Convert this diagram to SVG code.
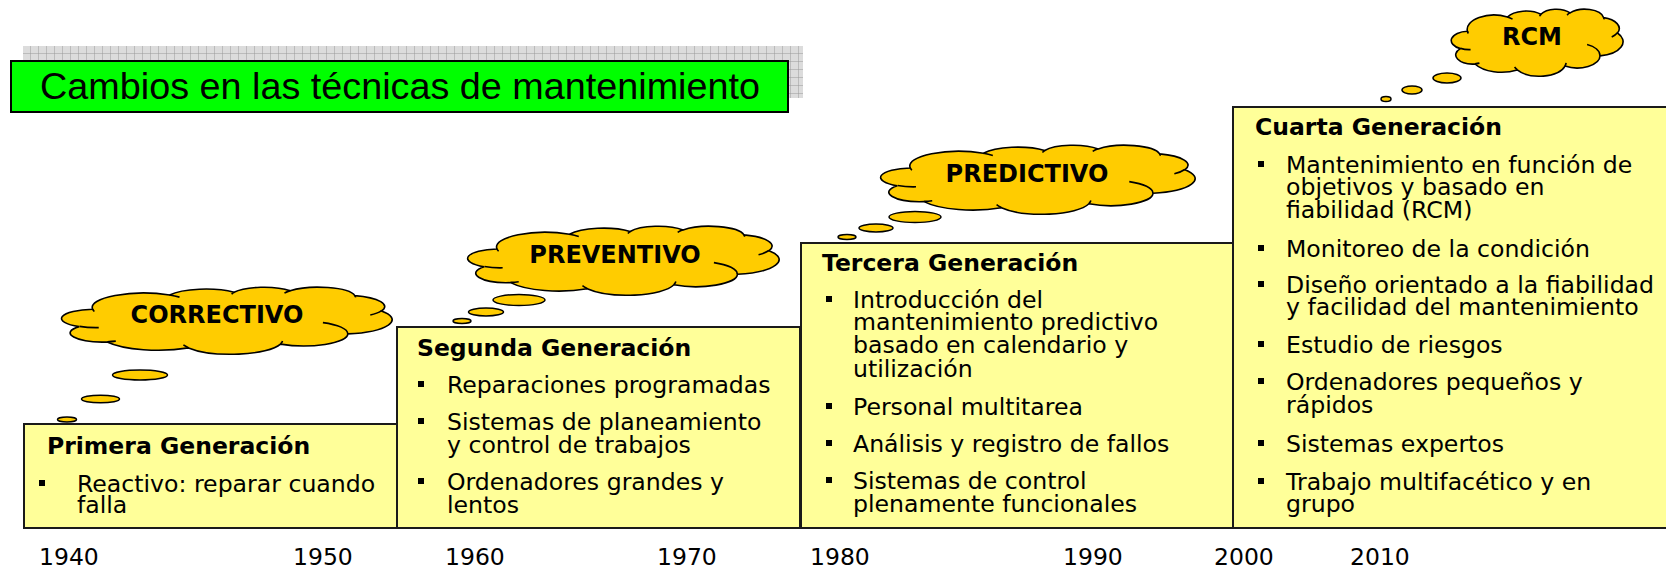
<svg xmlns="http://www.w3.org/2000/svg" width="1666" height="569" viewBox="0 0 1666 569">
<style>
.box{fill:#FFFF99;stroke:#1a1a1a;stroke-width:2}
.cloud{fill:#FFCC00;stroke:#000;stroke-width:1.6}
.crease{fill:none;stroke:#000;stroke-width:1.6}
.bub{fill:#FFCC00;stroke:#000;stroke-width:1.5}
.hd{font-family:"DejaVu Sans",Verdana,sans-serif;font-weight:bold;font-size:23.5px;fill:#000}
.tx{font-family:"DejaVu Sans",Verdana,sans-serif;font-size:23.6px;fill:#000}
.cl{font-family:"DejaVu Sans",Verdana,sans-serif;font-weight:bold;font-size:24px;fill:#000;text-anchor:middle}
.yr{font-family:"DejaVu Sans",Verdana,sans-serif;font-size:23.5px;fill:#000}
.bl{fill:#000}
</style>
<defs>
<pattern id="grid" x="23" y="46" width="8" height="8" patternUnits="userSpaceOnUse">
<rect width="8" height="8" fill="#dcdcdc"/>
<path d="M8 0V8H0" fill="none" stroke="#9a9a9a" stroke-width="1"/>
</pattern>
</defs>

<g id="title">
<rect x="23" y="46" width="780" height="52" fill="url(#grid)"/>
<rect x="11" y="61" width="777" height="51" fill="#00FF00" stroke="#000" stroke-width="2"/>
<text x="40" y="99" font-family="Liberation Sans, Arial, sans-serif" font-size="37" textLength="720" lengthAdjust="spacingAndGlyphs">Cambios en las técnicas de mantenimiento</text>
</g>

<g id="gen1">
<rect class="box" x="24" y="424" width="373" height="104"/>
<text class="hd" x="47" y="454">Primera Generación</text>
<rect class="bl" x="39" y="480" width="6" height="6"/>
<text class="tx" x="77" y="492">Reactivo: reparar cuando</text>
<text class="tx" x="77" y="513">falla</text>
</g>

<g id="gen2">
<rect class="box" x="397" y="327" width="403" height="201"/>
<text class="hd" x="417" y="356">Segunda Generación</text>
<rect class="bl" x="418" y="381" width="6" height="6"/>
<text class="tx" x="447" y="393">Reparaciones programadas</text>
<rect class="bl" x="418" y="418" width="6" height="6"/>
<text class="tx" x="447" y="430">Sistemas de planeamiento</text>
<text class="tx" x="447" y="453">y control de trabajos</text>
<rect class="bl" x="418" y="478" width="6" height="6"/>
<text class="tx" x="447" y="490">Ordenadores grandes y</text>
<text class="tx" x="447" y="513">lentos</text>
</g>

<g id="gen3">
<rect class="box" x="801" y="243" width="432" height="285"/>
<text class="hd" x="822" y="271">Tercera Generación</text>
<rect class="bl" x="826" y="296" width="6" height="6"/>
<text class="tx" x="853" y="308">Introducción del</text>
<text class="tx" x="853" y="330">mantenimiento predictivo</text>
<text class="tx" x="853" y="353">basado en calendario y</text>
<text class="tx" x="853" y="377">utilización</text>
<rect class="bl" x="826" y="403" width="6" height="6"/>
<text class="tx" x="853" y="415">Personal multitarea</text>
<rect class="bl" x="826" y="440" width="6" height="6"/>
<text class="tx" x="853" y="452">Análisis y registro de fallos</text>
<rect class="bl" x="826" y="477" width="6" height="6"/>
<text class="tx" x="853" y="489">Sistemas de control</text>
<text class="tx" x="853" y="512">plenamente funcionales</text>
</g>

<g id="gen4">
<rect class="box" x="1233" y="107" width="440" height="421"/>
<text class="hd" x="1255" y="135">Cuarta Generación</text>
<rect class="bl" x="1258" y="161" width="6" height="6"/>
<text class="tx" x="1286" y="173">Mantenimiento en función de</text>
<text class="tx" x="1286" y="195">objetivos y basado en</text>
<text class="tx" x="1286" y="218">fiabilidad (RCM)</text>
<rect class="bl" x="1258" y="245" width="6" height="6"/>
<text class="tx" x="1286" y="257">Monitoreo de la condición</text>
<rect class="bl" x="1258" y="281" width="6" height="6"/>
<text class="tx" x="1286" y="293">Diseño orientado a la fiabilidad</text>
<text class="tx" x="1286" y="315">y facilidad del mantenimiento</text>
<rect class="bl" x="1258" y="341" width="6" height="6"/>
<text class="tx" x="1286" y="353">Estudio de riesgos</text>
<rect class="bl" x="1258" y="378" width="6" height="6"/>
<text class="tx" x="1286" y="390">Ordenadores pequeños y</text>
<text class="tx" x="1286" y="413">rápidos</text>
<rect class="bl" x="1258" y="440" width="6" height="6"/>
<text class="tx" x="1286" y="452">Sistemas expertos</text>
<rect class="bl" x="1258" y="478" width="6" height="6"/>
<text class="tx" x="1286" y="490">Trabajo multifacético y en</text>
<text class="tx" x="1286" y="512">grupo</text>
</g>

<g id="cloud-correctivo">
<path class="cloud" vector-effect="non-scaling-stroke" transform="translate(63,287) scale(3.29,0.67)" d="M9.03 33.26A15.63 21.27 0 0 1 32.42 12.04A12.34 16.82 0 0 1 51.98 7.94A10.10 13.76 0 0 1 69.06 5.74A11.24 15.27 0 0 1 88.70 12.90A12.34 16.84 0 0 1 96.80 35.78A15.68 21.34 0 0 1 86.58 69.91A13.39 18.21 0 0 1 66.10 85.21A15.63 21.33 0 0 1 38.15 90.89A17.87 24.41 0 0 1 13.44 82.10A10.09 13.70 0 0 1 4.89 59.14A10.06 13.76 0 0 1 9.03 33.26Z"/>
<path class="crease" vector-effect="non-scaling-stroke" transform="translate(63,287) scale(3.29,0.67)" d="M10.86 60.59A10.06 13.76 0 0 1 5.00 58.75M16.04 80.79A10.09 13.70 0 0 1 13.47 81.67M38.14 90.49A15.63 21.33 0 0 1 36.60 86.46M66.73 80.44A15.63 21.33 0 0 1 66.11 84.86M79.00 53.13A13.39 18.21 0 0 1 86.53 69.65M96.75 35.54A12.34 16.84 0 0 1 93.40 41.73M88.71 12.56A11.24 15.27 0 0 1 88.89 15.49M67.31 9.15A11.24 15.27 0 0 1 69.03 5.42M51.25 10.93A10.10 13.76 0 0 1 52.08 7.71M32.41 12.02A15.63 21.27 0 0 1 35.41 15.14M9.55 36.55A15.63 21.27 0 0 1 9.03 33.27"/>
<ellipse class="bub" cx="140" cy="375" rx="27.5" ry="5"/>
<ellipse class="bub" cx="100.5" cy="399" rx="19" ry="3.8"/>
<ellipse class="bub" cx="67" cy="419.5" rx="9.5" ry="2.5"/>
<text class="cl" x="217" y="323">CORRECTIVO</text>
</g>

<g id="cloud-preventivo">
<path class="cloud" vector-effect="non-scaling-stroke" transform="translate(469,226) scale(3.10,0.69)" d="M9.03 33.26A15.63 21.27 0 0 1 32.42 12.04A12.34 16.82 0 0 1 51.98 7.94A10.10 13.76 0 0 1 69.06 5.74A11.24 15.27 0 0 1 88.70 12.90A12.34 16.84 0 0 1 96.80 35.78A15.68 21.34 0 0 1 86.58 69.91A13.39 18.21 0 0 1 66.10 85.21A15.63 21.33 0 0 1 38.15 90.89A17.87 24.41 0 0 1 13.44 82.10A10.09 13.70 0 0 1 4.89 59.14A10.06 13.76 0 0 1 9.03 33.26Z"/>
<path class="crease" vector-effect="non-scaling-stroke" transform="translate(469,226) scale(3.10,0.69)" d="M10.86 60.59A10.06 13.76 0 0 1 5.00 58.75M16.04 80.79A10.09 13.70 0 0 1 13.47 81.67M38.14 90.49A15.63 21.33 0 0 1 36.60 86.46M66.73 80.44A15.63 21.33 0 0 1 66.11 84.86M79.00 53.13A13.39 18.21 0 0 1 86.53 69.65M96.75 35.54A12.34 16.84 0 0 1 93.40 41.73M88.71 12.56A11.24 15.27 0 0 1 88.89 15.49M67.31 9.15A11.24 15.27 0 0 1 69.03 5.42M51.25 10.93A10.10 13.76 0 0 1 52.08 7.71M32.41 12.02A15.63 21.27 0 0 1 35.41 15.14M9.55 36.55A15.63 21.27 0 0 1 9.03 33.27"/>
<ellipse class="bub" cx="519" cy="300" rx="26" ry="5.5"/>
<ellipse class="bub" cx="486" cy="312" rx="17.5" ry="4"/>
<ellipse class="bub" cx="462" cy="321" rx="9" ry="2.5"/>
<text class="cl" x="615" y="263">PREVENTIVO</text>
</g>

<g id="cloud-predictivo">
<path class="cloud" vector-effect="non-scaling-stroke" transform="translate(882,145) scale(3.13,0.69)" d="M9.03 33.26A15.63 21.27 0 0 1 32.42 12.04A12.34 16.82 0 0 1 51.98 7.94A10.10 13.76 0 0 1 69.06 5.74A11.24 15.27 0 0 1 88.70 12.90A12.34 16.84 0 0 1 96.80 35.78A15.68 21.34 0 0 1 86.58 69.91A13.39 18.21 0 0 1 66.10 85.21A15.63 21.33 0 0 1 38.15 90.89A17.87 24.41 0 0 1 13.44 82.10A10.09 13.70 0 0 1 4.89 59.14A10.06 13.76 0 0 1 9.03 33.26Z"/>
<path class="crease" vector-effect="non-scaling-stroke" transform="translate(882,145) scale(3.13,0.69)" d="M10.86 60.59A10.06 13.76 0 0 1 5.00 58.75M16.04 80.79A10.09 13.70 0 0 1 13.47 81.67M38.14 90.49A15.63 21.33 0 0 1 36.60 86.46M66.73 80.44A15.63 21.33 0 0 1 66.11 84.86M79.00 53.13A13.39 18.21 0 0 1 86.53 69.65M96.75 35.54A12.34 16.84 0 0 1 93.40 41.73M88.71 12.56A11.24 15.27 0 0 1 88.89 15.49M67.31 9.15A11.24 15.27 0 0 1 69.03 5.42M51.25 10.93A10.10 13.76 0 0 1 52.08 7.71M32.41 12.02A15.63 21.27 0 0 1 35.41 15.14M9.55 36.55A15.63 21.27 0 0 1 9.03 33.27"/>
<ellipse class="bub" cx="915" cy="217" rx="26" ry="5.5"/>
<ellipse class="bub" cx="876" cy="228" rx="17" ry="4"/>
<ellipse class="bub" cx="847" cy="237" rx="9" ry="2.5"/>
<text class="cl" x="1027" y="182">PREDICTIVO</text>
</g>

<g id="cloud-rcm">
<path class="cloud" vector-effect="non-scaling-stroke" transform="translate(1452,9) scale(1.71,0.67)" d="M9.03 33.26A15.63 21.27 0 0 1 32.42 12.04A12.34 16.82 0 0 1 51.98 7.94A10.10 13.76 0 0 1 69.06 5.74A11.24 15.27 0 0 1 88.70 12.90A12.34 16.84 0 0 1 96.80 35.78A15.68 21.34 0 0 1 86.58 69.91A13.39 18.21 0 0 1 66.10 85.21A15.63 21.33 0 0 1 38.15 90.89A17.87 24.41 0 0 1 13.44 82.10A10.09 13.70 0 0 1 4.89 59.14A10.06 13.76 0 0 1 9.03 33.26Z"/>
<path class="crease" vector-effect="non-scaling-stroke" transform="translate(1452,9) scale(1.71,0.67)" d="M10.86 60.59A10.06 13.76 0 0 1 5.00 58.75M16.04 80.79A10.09 13.70 0 0 1 13.47 81.67M38.14 90.49A15.63 21.33 0 0 1 36.60 86.46M66.73 80.44A15.63 21.33 0 0 1 66.11 84.86M79.00 53.13A13.39 18.21 0 0 1 86.53 69.65M96.75 35.54A12.34 16.84 0 0 1 93.40 41.73M88.71 12.56A11.24 15.27 0 0 1 88.89 15.49M67.31 9.15A11.24 15.27 0 0 1 69.03 5.42M51.25 10.93A10.10 13.76 0 0 1 52.08 7.71M32.41 12.02A15.63 21.27 0 0 1 35.41 15.14M9.55 36.55A15.63 21.27 0 0 1 9.03 33.27"/>
<ellipse class="bub" cx="1447" cy="78" rx="14" ry="5"/>
<ellipse class="bub" cx="1412" cy="90" rx="10" ry="4"/>
<ellipse class="bub" cx="1386" cy="99" rx="5" ry="2.5"/>
<text class="cl" x="1532" y="45">RCM</text>
</g>

<g id="years">
<text class="yr" x="39" y="565">1940</text>
<text class="yr" x="293" y="565">1950</text>
<text class="yr" x="445" y="565">1960</text>
<text class="yr" x="657" y="565">1970</text>
<text class="yr" x="810" y="565">1980</text>
<text class="yr" x="1063" y="565">1990</text>
<text class="yr" x="1214" y="565">2000</text>
<text class="yr" x="1350" y="565">2010</text>
</g>
<g id="connectors"></g>
</svg>
